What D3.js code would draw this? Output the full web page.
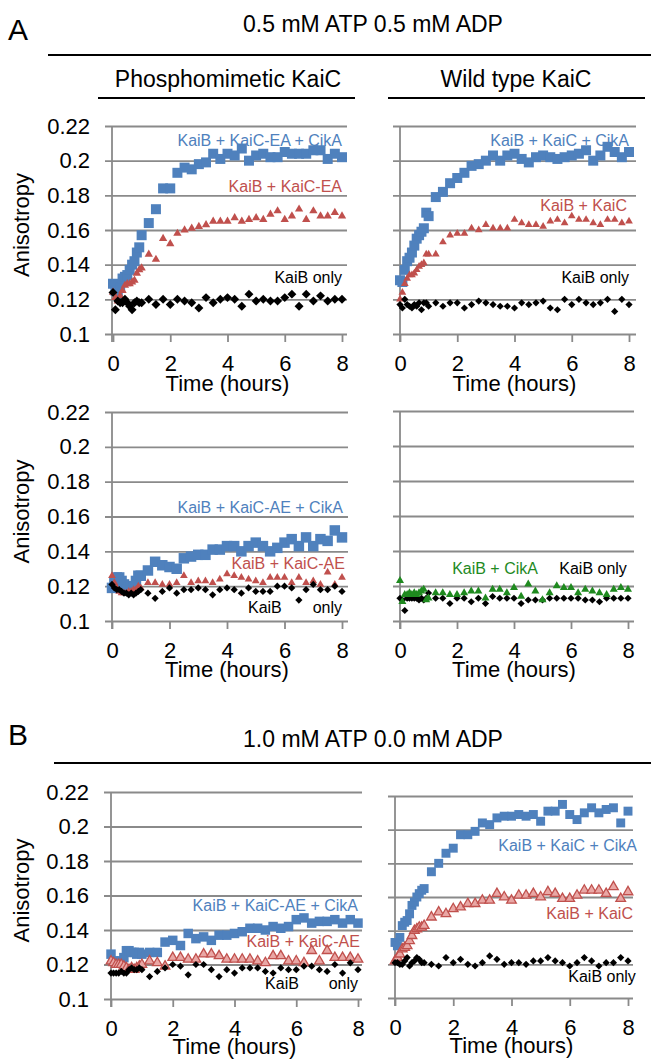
<!DOCTYPE html>
<html>
<head>
<meta charset="utf-8">
<script src="https://cdn.jsdelivr.net/npm/d3@7"></script>
<style>
  body { margin: 0; background: #fff; }
  svg { display: block; font-family: "Liberation Sans", Arial, sans-serif; }
</style>
</head>
<body>
<div id="chart"></div>
<script>
// sampling times (hours)
var hours = [0, 0.083, 0.167, 0.25, 0.333, 0.417, 0.5, 0.583, 0.667, 0.75, 0.833, 0.917, 1,
  1.25, 1.5, 1.75, 2, 2.25, 2.5, 2.75, 3, 3.25, 3.5, 3.75, 4, 4.25, 4.5, 4.75, 5,
  5.25, 5.5, 5.75, 6, 6.25, 6.5, 6.75, 7, 7.25, 7.5, 7.75, 8];

var yTicks = [0.1, 0.12, 0.14, 0.16, 0.18, 0.2, 0.22];
var xTicks = [0, 2, 4, 6, 8];

// A, phosphomimetic KaiC-EA
var a1Cika = [0.129,0.125,0.123,0.127,0.132,0.133,0.134,0.137,0.140,0.142,0.147,0.150,0.157,
  0.164,0.172,0.184,0.184,0.193,0.196,0.195,0.198,0.199,0.204,0.201,0.204,0.203,0.207,0.200,0.203,
  0.204,0.202,0.202,0.205,0.204,0.204,0.204,0.206,0.206,0.201,0.204,0.202];
var a1KaiC = [0.124,0.121,0.119,0.122,0.125,0.128,0.129,0.129,0.130,0.131,0.135,0.137,0.138,
  0.146,0.143,0.155,0.152,0.158,0.160,0.161,0.162,0.163,0.165,0.165,0.165,0.167,0.165,0.166,0.167,
  0.166,0.169,0.171,0.166,0.168,0.172,0.166,0.171,0.168,0.168,0.170,0.168];
var a1Only = [0.124,0.114,0.119,0.118,0.118,0.120,0.118,0.116,0.114,0.118,0.119,0.118,0.118,
  0.120,0.117,0.120,0.117,0.120,0.119,0.118,0.115,0.121,0.118,0.120,0.121,0.120,0.116,0.123,0.119,
  0.120,0.119,0.119,0.121,0.123,0.116,0.123,0.119,0.122,0.119,0.120,0.120];

// A, wild type KaiC
var a2Cika = [0.131,0.130,0.137,0.142,0.144,0.147,0.151,0.155,0.157,0.159,0.161,0.170,0.168,
  0.179,0.182,0.187,0.190,0.193,0.197,0.198,0.200,0.203,0.200,0.203,0.204,0.201,0.199,0.202,0.203,
  0.202,0.201,0.202,0.203,0.204,0.206,0.200,0.203,0.208,0.205,0.202,0.205];
var a2KaiC = [0.120,0.124,0.129,0.132,0.134,0.134,0.135,0.137,0.139,0.140,0.141,0.146,0.146,
  0.146,0.153,0.157,0.158,0.158,0.161,0.160,0.163,0.161,0.161,0.161,0.166,0.164,0.163,0.163,0.162,
  0.165,0.166,0.164,0.168,0.166,0.166,0.164,0.163,0.166,0.166,0.164,0.165];
var a2Only = [0.117,0.115,0.120,0.117,0.116,0.115,0.117,0.116,0.118,0.114,0.118,0.118,0.116,
  0.118,0.116,0.118,0.118,0.115,0.117,0.119,0.118,0.117,0.116,0.116,0.115,0.118,0.117,0.118,0.119,
  0.115,0.114,0.120,0.117,0.120,0.118,0.117,0.118,0.120,0.113,0.120,0.117];

// A, KaiC-AE
var a3Cika = [0.119,0.122,0.125,0.125,0.123,0.121,0.118,0.119,0.120,0.120,0.123,0.126,0.126,
  0.129,0.134,0.132,0.131,0.130,0.136,0.137,0.138,0.138,0.141,0.141,0.143,0.143,0.140,0.143,0.145,
  0.143,0.140,0.142,0.145,0.147,0.143,0.148,0.143,0.147,0.146,0.152,0.148];
var a3KaiC = [0.126,0.122,0.119,0.117,0.116,0.116,0.116,0.117,0.117,0.118,0.118,0.120,0.119,
  0.122,0.122,0.121,0.121,0.122,0.126,0.122,0.123,0.123,0.122,0.124,0.127,0.126,0.125,0.124,0.123,
  0.122,0.125,0.125,0.125,0.122,0.125,0.122,0.123,0.121,0.128,0.121,0.125];
var a3Only = [0.121,0.119,0.118,0.118,0.117,0.116,0.116,0.115,0.116,0.115,0.116,0.117,0.118,
  0.116,0.113,0.117,0.119,0.116,0.118,0.118,0.119,0.118,0.115,0.118,0.119,0.118,0.116,0.119,0.117,
  0.117,0.117,0.120,0.120,0.119,0.112,0.118,0.121,0.118,0.118,0.120,0.117];

// A, no KaiC
var a4Cika = [0.123,0.111,0.115,0.115,0.116,0.115,0.116,0.115,0.116,0.117,0.118,0.112,0.113,
  0.116,0.116,0.115,0.115,0.116,0.117,0.117,0.113,0.118,0.118,0.116,0.119,0.114,0.121,0.117,0.112,
  0.116,0.120,0.119,0.119,0.116,0.118,0.117,0.116,0.115,0.118,0.119,0.118];
var a4Only = [0.113,0.112,0.106,0.113,0.113,0.113,0.113,0.113,0.112,0.113,0.112,0.113,0.116,
  0.113,0.113,0.110,0.113,0.113,0.111,0.113,0.110,0.114,0.113,0.113,0.113,0.110,0.112,0.112,0.112,
  0.113,0.113,0.113,0.113,0.113,0.112,0.112,0.111,0.113,0.113,0.113,0.113];

// B, KaiC-AE
var b1Cika = [0.126,0.122,0.121,0.122,0.122,0.124,0.128,0.128,0.127,0.127,0.126,0.127,0.126,
  0.127,0.127,0.133,0.134,0.131,0.138,0.135,0.136,0.134,0.137,0.137,0.138,0.139,0.141,0.141,0.140,
  0.142,0.141,0.142,0.146,0.147,0.144,0.145,0.145,0.146,0.144,0.146,0.144];
var b1KaiC = [0.122,0.121,0.120,0.120,0.120,0.119,0.118,0.117,0.118,0.117,0.118,0.119,0.120,
  0.122,0.121,0.119,0.124,0.124,0.123,0.123,0.126,0.126,0.125,0.123,0.123,0.123,0.123,0.122,0.121,
  0.125,0.125,0.122,0.122,0.121,0.128,0.122,0.128,0.124,0.124,0.124,0.123];
var b1Only = [0.115,0.115,0.115,0.115,0.116,0.115,0.115,0.117,0.118,0.117,0.117,0.118,0.117,
  0.113,0.116,0.118,0.120,0.119,0.114,0.120,0.120,0.117,0.113,0.117,0.115,0.118,0.118,0.118,0.116,
  0.115,0.118,0.117,0.117,0.119,0.119,0.117,0.116,0.120,0.115,0.121,0.117];

// B, wild type KaiC
var b2Cika = [0.133,0.131,0.136,0.143,0.145,0.146,0.150,0.155,0.157,0.160,0.162,0.164,0.165,
  0.175,0.180,0.186,0.189,0.197,0.197,0.199,0.204,0.203,0.207,0.208,0.208,0.209,0.208,0.209,0.205,
  0.211,0.211,0.215,0.209,0.206,0.210,0.213,0.210,0.212,0.213,0.204,0.211];
var b2KaiC = [0.122,0.124,0.126,0.129,0.130,0.131,0.134,0.137,0.140,0.141,0.142,0.142,0.143,
  0.148,0.151,0.150,0.153,0.154,0.156,0.156,0.158,0.158,0.162,0.160,0.158,0.161,0.161,0.162,0.160,
  0.163,0.162,0.159,0.159,0.161,0.164,0.164,0.164,0.162,0.166,0.159,0.163];
var b2Only = [0.121,0.121,0.120,0.120,0.122,0.124,0.119,0.121,0.122,0.124,0.123,0.121,0.121,
  0.120,0.119,0.124,0.121,0.123,0.120,0.119,0.121,0.125,0.123,0.120,0.121,0.121,0.120,0.122,0.122,
  0.124,0.122,0.121,0.119,0.121,0.124,0.122,0.119,0.121,0.121,0.124,0.122];

var BLUE = "#4f81bd", RED = "#c0504d", GREEN = "#1f8a1f", GRID = "#8a8a8a";

var W = 651, H = 1059;
var svg = d3.select("#chart").append("svg")
    .attr("width", W)
    .attr("height", H);
svg.append("rect").attr("width", W).attr("height", H).attr("fill", "#fff");

// section headers
function header(letter, title, ly, ty, lineY, lineX) {
    svg.append("text").attr("x", 8).attr("y", ly)
        .style("font-size", "30px").text(letter);
    svg.append("text").attr("x", 373).attr("y", ty)
        .attr("text-anchor", "middle").style("font-size", "23px").text(title);
    svg.append("line").attr("x1", lineX).attr("x2", W)
        .attr("y1", lineY).attr("y2", lineY)
        .attr("stroke", "#000").attr("stroke-width", 2);
}
header("A", "0.5 mM ATP 0.5 mM ADP", 40, 32, 55, 48);
header("B", "1.0 mM ATP 0.0 mM ADP", 745, 747, 763, 54);

[["Phosphomimetic KaiC", 228, 98, 355], ["Wild type KaiC", 516, 388, 645]].forEach(function(s) {
    svg.append("text").attr("x", s[1]).attr("y", 87)
        .attr("text-anchor", "middle").style("font-size", "23px").text(s[0]);
    svg.append("line").attr("x1", s[2]).attr("x2", s[3])
        .attr("y1", 98).attr("y2", 98)
        .attr("stroke", "#000").attr("stroke-width", 2);
});

var squareSym = d3.symbol().type(d3.symbolSquare);
var triSym = d3.symbol().type(d3.symbolTriangle);

function drawPanel(p) {
    var x = d3.scaleLinear().domain([0, 8]).range([p.x0, p.x8]);
    var y = d3.scaleLinear().domain([0.1, 0.22]).range([p.bottom, p.top]);
    var g = svg.append("g");

    // horizontal gridlines + y tick labels, axis hung from the right edge
    var yAxis = d3.axisLeft(y).tickValues(yTicks)
        .tickSize(p.right - p.axis + 7).tickSizeOuter(0).tickPadding(15)
        .tickFormat(p.yLabels ? d3.format("") : function() { return ""; });
    var ya = g.append("g").attr("transform", "translate(" + p.right + ",0)").call(yAxis);
    ya.select(".domain").remove();
    ya.selectAll(".tick line").attr("stroke", GRID).attr("stroke-width", 1.8);
    ya.selectAll("text").attr("fill", "#000").style("font-size", "22px").style("font-family", null);

    // x ticks
    var xAxis = d3.axisBottom(x).tickValues(xTicks).tickSize(8).tickSizeOuter(0).tickPadding(13);
    var xa = g.append("g").attr("transform", "translate(0," + p.bottom + ")").call(xAxis);
    xa.select(".domain").remove();
    xa.selectAll(".tick line").attr("stroke", GRID).attr("stroke-width", 1.8);
    xa.selectAll("text").attr("fill", "#000").style("font-size", "22px").style("font-family", null);

    g.append("line").attr("x1", p.axis).attr("x2", p.axis)
        .attr("y1", p.top).attr("y2", p.bottom + 8)
        .attr("stroke", GRID).attr("stroke-width", 1.8);

    g.append("text").attr("x", (p.x0 + p.x8) / 2).attr("y", p.bottom + p.timeDy)
        .attr("text-anchor", "middle").style("font-size", "22px").text("Time (hours)");

    if (p.yLabels) {
        g.append("text")
            .attr("transform", "translate(29," + ((p.top + p.bottom) / 2 - 5) + ") rotate(-90)")
            .attr("text-anchor", "middle").style("font-size", "22px").text("Anisotropy");
    }

    p.series.forEach(function(s) {
        var pts = hours.map(function(h, i) { return [h, s.values[i]]; });
        var sel = g.append("g").selectAll("path").data(pts).join("path")
            .attr("fill", s.fill)
            .attr("stroke", s.stroke || "none")
            .attr("stroke-width", s.stroke ? 1.3 : 0);
        if (s.shape === "square") {
            sel.attr("d", squareSym.size(s.size))
                .attr("transform", function(d) { return "translate(" + x(d[0]) + "," + y(d[1]) + ")"; });
        } else if (s.shape === "triangle") {
            sel.attr("d", triSym.size(s.size))
                .attr("transform", function(d) { return "translate(" + x(d[0]) + "," + y(d[1]) + ")"; });
        } else {
            sel.attr("d", squareSym.size(s.size))
                .attr("transform", function(d) { return "translate(" + x(d[0]) + "," + y(d[1]) + ") rotate(45)"; });
        }
    });

    p.labels.forEach(function(l) {
        g.append("text").attr("x", x(l.t)).attr("y", y(l.v))
            .attr("text-anchor", l.anchor || "end")
            .attr("fill", l.color).style("font-size", "16px").text(l.text);
    });
}

var panels = [
    {x0: 113, x8: 342, axis: 112, right: 347, top: 126, bottom: 334, yLabels: true, timeDy: 57,
     series: [
        {values: a1Cika, shape: "square", size: 100, fill: BLUE},
        {values: a1KaiC, shape: "triangle", size: 30, fill: RED},
        {values: a1Only, shape: "diamond", size: 40, fill: "#000"}],
     labels: [
        {text: "KaiB + KaiC-EA + CikA", t: 8.0, v: 0.2085, color: BLUE},
        {text: "KaiB + KaiC-EA", t: 8.0, v: 0.1819, color: RED},
        {text: "KaiB only", t: 8.0, v: 0.1294, color: "#000"}]},
    {x0: 400, x8: 629, axis: 400, right: 636, top: 126, bottom: 334, yLabels: false, timeDy: 57,
     series: [
        {values: a2Cika, shape: "square", size: 100, fill: BLUE},
        {values: a2KaiC, shape: "triangle", size: 26, fill: RED},
        {values: a2Only, shape: "diamond", size: 26, fill: "#000"}],
     labels: [
        {text: "KaiB + KaiC + CikA", t: 8.0, v: 0.2085, color: BLUE},
        {text: "KaiB + KaiC", t: 7.93, v: 0.1710, color: RED},
        {text: "KaiB only", t: 8.0, v: 0.1294, color: "#000"}]},
    {x0: 112, x8: 342, axis: 112, right: 348, top: 412, bottom: 621, yLabels: true, timeDy: 56,
     series: [
        {values: a3Cika, shape: "square", size: 110, fill: BLUE},
        {values: a3KaiC, shape: "triangle", size: 26, fill: RED},
        {values: a3Only, shape: "diamond", size: 26, fill: "#000"}],
     labels: [
        {text: "KaiB + KaiC-AE + CikA", t: 8.03, v: 0.1620, color: BLUE},
        {text: "KaiB + KaiC-AE", t: 8.1, v: 0.1299, color: RED},
        {text: "KaiB", t: 4.73, v: 0.1046, color: "#000", anchor: "start"},
        {text: "only", t: 8.0, v: 0.1046, color: "#000"}]},
    {x0: 400, x8: 628, axis: 400, right: 634, top: 411, bottom: 621, yLabels: false, timeDy: 56,
     series: [
        {values: a4Only, shape: "diamond", size: 26, fill: "#000"},
        {values: a4Cika, shape: "triangle", size: 28, fill: GREEN}],
     labels: [
        {text: "KaiB + CikA", t: 4.84, v: 0.1269, color: GREEN},
        {text: "KaiB only", t: 7.96, v: 0.1269, color: "#000"}]},
    {x0: 111, x8: 358, axis: 111, right: 362, top: 792, bottom: 999, yLabels: true, timeDy: 55,
     series: [
        {values: b1Cika, shape: "square", size: 90, fill: BLUE},
        {values: b1KaiC, shape: "triangle", size: 40, fill: "#e9a7a5", stroke: RED},
        {values: b1Only, shape: "diamond", size: 26, fill: "#000"}],
     labels: [
        {text: "KaiB + KaiC-AE + CikA", t: 8.0, v: 0.1510, color: BLUE},
        {text: "KaiB + KaiC-AE", t: 8.06, v: 0.1301, color: RED},
        {text: "KaiB", t: 4.99, v: 0.1058, color: "#000", anchor: "start"},
        {text: "only", t: 8.0, v: 0.1058, color: "#000"}]},
    {x0: 395, x8: 628, axis: 395, right: 633, top: 796, bottom: 998, yLabels: false, timeDy: 55,
     series: [
        {values: b2Cika, shape: "square", size: 80, fill: BLUE},
        {values: b2KaiC, shape: "triangle", size: 40, fill: "#e9a7a5", stroke: RED},
        {values: b2Only, shape: "diamond", size: 26, fill: "#000"}],
     labels: [
        {text: "KaiB + KaiC + CikA", t: 8.31, v: 0.1873, color: BLUE},
        {text: "KaiB + KaiC", t: 8.17, v: 0.1469, color: RED},
        {text: "KaiB only", t: 8.27, v: 0.1095, color: "#000"}]}
];

panels.forEach(drawPanel);
</script>
</body>
</html>
